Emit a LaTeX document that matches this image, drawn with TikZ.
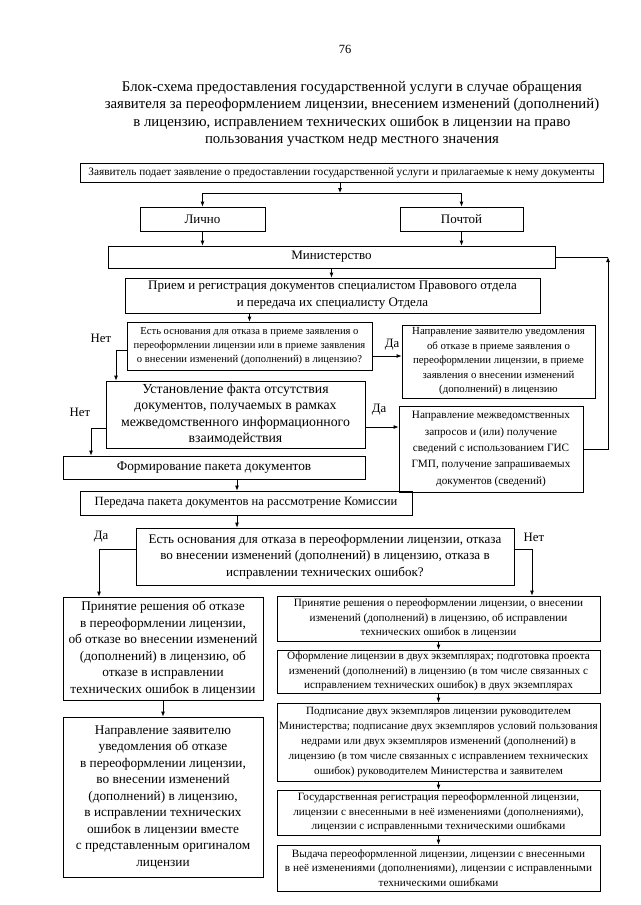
\documentclass[tikz,border=0pt]{standalone}
\usepackage{fontspec}
\setmainfont{Liberation Serif}
\usetikzlibrary{arrows.meta,calc}
\newcommand\fs[2]{\fontsize{#1}{#2}\selectfont}
\tikzset{
  box/.style={draw, line width=0.8pt, inner sep=0pt, align=center},
  arr/.style={-{Latex[length=5pt,width=4pt]}, line width=0.8pt},
  ln/.style={line width=0.8pt},
  lbl/.style={inner sep=0pt, font=\fs{12.8}{14}},
}
\newcommand\bx[7]{\node[box, font=#6, minimum width={#4pt-#2pt}, minimum height={#5pt-#3pt}] (#1) at ({(#2+#4)/2},{(#3+#5)/2}) {#7};}
\begin{document}
\begin{tikzpicture}[x=1pt,y=-1pt]
\useasboundingbox[fill=white] (0,0) rectangle (640,905);
\node[inner sep=0pt, font=\fs{12.5}{14}] (pg) at (345,49) {76};
\node[inner sep=0pt, align=center, font=\fs{14.8}{17.5}] (title) at (352,114) {Блок-схема предоставления государственной услуги в случае обращения\\ заявителя за переоформлением лицензии, внесением изменений (дополнений)\\ в лицензию, исправлением технических ошибок в лицензии на право\\ пользования участком недр местного значения};

\bx{b1}{80}{163}{603}{182}{\fs{11.3}{12}}{Заявитель подает заявление о предоставлении государственной услуги и прилагаемые к нему документы}
\bx{lic}{140}{207}{265}{231}{\fs{13}{14}}{Лично}
\bx{poc}{400}{207}{523}{231}{\fs{13}{14}}{Почтой}
\bx{min}{108}{246}{555}{268}{\fs{13}{14}}{Министерство}
\bx{pri}{125}{278}{540}{313}{\fs{13}{17}}{Прием и регистрация документов специалистом Правового отдела\\ и передача их специалисту Отдела}
\bx{d1}{127}{322}{372}{370}{\fs{10.6}{14}}{Есть основания для отказа в приеме заявления о\\ переоформлении лицензии или в приеме заявления\\ о внесении изменений (дополнений) в лицензию?}
\bx{uv}{402}{325}{595}{398}{\fs{10.8}{14.5}}{Направление заявителю уведомления\\ об отказе в приеме заявления о\\ переоформлении лицензии, в приеме\\ заявления о внесении изменений\\ (дополнений) в лицензию}
\bx{ust}{106}{381}{365}{448}{\fs{13.8}{16.3}}{Установление факта отсутствия\\ документов, получаемых в рамках\\ межведомственного информационного\\ взаимодействия}
\bx{mz}{399}{406}{583}{492}{\fs{11.2}{16.3}}{Направление межведомственных\\ запросов и (или) получение\\ сведений с использованием ГИС\\ ГМП, получение запрашиваемых\\ документов (сведений)}
\bx{form}{63}{456}{365}{479}{\fs{13.3}{14}}{Формирование пакета документов}
\bx{per}{80}{491}{412}{515}{\fs{12.6}{14}}{Передача пакета документов на рассмотрение Комиссии}
\bx{d2}{136}{528}{514}{585}{\fs{13.1}{16.5}}{Есть основания для отказа в переоформлении лицензии, отказа\\ во внесении изменений (дополнений) в лицензию, отказа в\\ исправлении технических ошибок?}
\bx{la}{63}{597}{263}{700}{\fs{13.3}{16.6}}{Принятие решения об отказе\\ в переоформлении лицензии,\\ об отказе во внесении изменений\\ (дополнений) в лицензию, об\\ отказе в исправлении\\ технических ошибок в лицензии}
\bx{lb}{63}{717}{263}{877}{\fs{13.3}{16.5}}{Направление заявителю\\ уведомления об отказе\\ в переоформлении лицензии,\\ во внесении изменений\\ (дополнений) в лицензию,\\ в исправлении технических\\ ошибок в лицензии вместе\\ с представленным оригиналом\\ лицензии}
\bx{r1}{277}{596}{600}{641}{\fs{11.2}{14.5}}{Принятие решения о переоформлении лицензии, о внесении\\ изменений (дополнений) в лицензию, об исправлении\\ технических ошибок в лицензии}
\bx{r2}{277}{650}{600}{693}{\fs{11.2}{14.5}}{Оформление лицензии в двух экземплярах; подготовка проекта\\ изменений (дополнений) в лицензию (в том числе связанных с\\ исправлением технических ошибок) в двух экземплярах}
\bx{r3}{277}{703}{600}{781}{\fs{11.1}{15}}{Подписание двух экземпляров лицензии руководителем\\ Министерства; подписание двух экземпляров условий пользования\\ недрами или двух экземпляров изменений (дополнений) в\\ лицензию (в том числе связанных с исправлением технических\\ ошибок) руководителем Министерства и заявителем}
\bx{r4}{277}{790}{600}{835}{\fs{11.2}{14.5}}{Государственная регистрация переоформленной лицензии,\\ лицензии с внесенными в неё изменениями (дополнениями),\\ лицензии с исправленными техническими ошибками}
\bx{r5}{277}{845}{600}{891}{\fs{11.2}{14.5}}{Выдача переоформленной лицензии, лицензии с внесенными\\ в неё изменениями (дополнениями), лицензии с исправленными\\ техническими ошибками}

% labels
\node[lbl] (n1) at (101,338) {Нет};
\node[lbl] (y1) at (392,345) {Да};
\node[lbl] (n2) at (80,412) {Нет};
\node[lbl] (y2) at (379,410) {Да};
\node[lbl] (y3) at (101,537) {Да};
\node[lbl] (n3) at (534,537) {Нет};

% connectors
\coordinate (j) at (340,193);
\draw[arr] (b1.south -| j) -- (j);
\draw[ln] (lic.north |- j) -- (poc.north |- j);
\draw[arr] (lic.north |- j) -- (lic.north);
\draw[arr] (poc.north |- j) -- (poc.north);
\draw[arr] (lic.south) -- (lic.south |- min.north);
\draw[arr] (poc.south) -- (poc.south |- min.north);
\draw[arr] (min.south) -- (min.south |- pri.north);
\draw[arr] (d1.north |- pri.south) -- (d1.north);
\coordinate (c0) at (0,356);
\draw[arr] (d1.east |- c0) -- (uv.west |- c0);
\coordinate (c1) at (116,350);
\draw[arr] (d1.west |- c1) -- (c1) -- (c1 |- ust.north);
\coordinate (c2) at (91,428);
\draw[arr] (ust.west |- c2) -- (c2) -- (c2 |- form.north);
\coordinate (c3) at (0,427);
\draw[arr] (ust.east |- c3) -- (mz.west |- c3);
\coordinate (c4) at (608,0);
\draw[ln] (min.east) -- (min.east -| c4);
\draw[arr] (mz.east) -- (mz.east -| c4) -- (min.east -| c4);
\coordinate (c5) at (237,0);
\draw[arr] (form.south -| c5) -- (per.north -| c5);
\draw[arr] (per.south -| c5) -- (d2.north -| c5);
\coordinate (c6) at (99,549);
\draw[arr] (d2.west |- c6) -- (c6) -- (c6 |- la.north);
\coordinate (c7) at (532,549);
\draw[arr] (d2.east |- c7) -- (c7) -- (c7 |- r1.north);
\draw[arr] (la.south) -- (lb.north);
\draw[arr] (r1.south) -- (r2.north);
\draw[arr] (r2.south) -- (r3.north);
\draw[arr] (r3.south) -- (r4.north);
\draw[arr] (r4.south) -- (r5.north);
\end{tikzpicture}
\end{document}
